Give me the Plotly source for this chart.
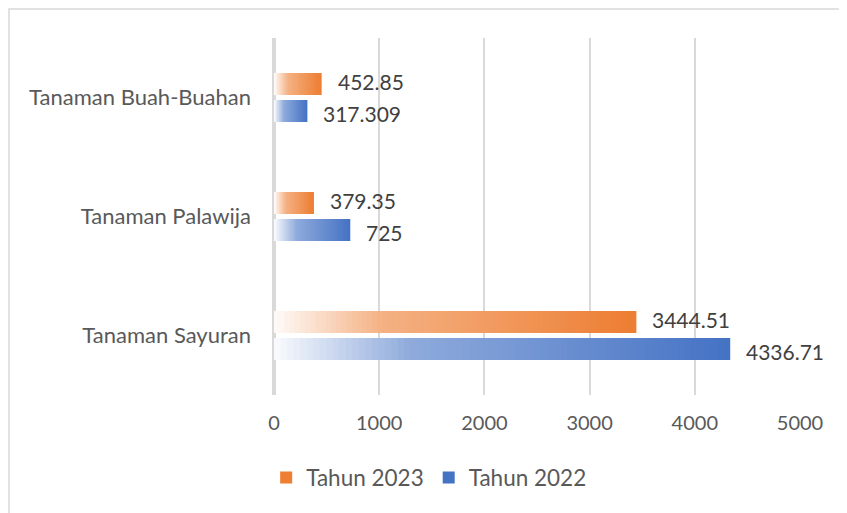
import plotly.graph_objects as go

categories = ["Tanaman Sayuran", "Tanaman Palawija", "Tanaman Buah-Buahan"]
tahun_2022 = [4336.71, 725, 317.309]
tahun_2023 = [3444.51, 379.35, 452.85]
x_ticks = [0, 1000, 2000, 3000, 4000, 5000]

FONT = "Lato"
K = 70  # gradient segments


def alpha(t):
    if t < 0.3:
        return 0.03 + (0.6 - 0.03) * t / 0.3
    return 0.6 + 0.4 * (t - 0.3) / 0.7


def blend(rgb, a):
    return "rgb(%d,%d,%d)" % tuple(round(255 * (1 - a) + c * a) for c in rgb)


series = [
    ("Tahun 2022", tahun_2022, (68, 114, 196), 2, -16),
    ("Tahun 2023", tahun_2023, (237, 125, 49), 1, 16),
]

fig = go.Figure()
for name, vals, rgb, rank, yshift in series:
    for k in range(K - 1, -1, -1):
        t = (k + 0.5) / K
        fig.add_trace(go.Bar(
            y=categories,
            x=[v * (k + 1) / K for v in vals],
            orientation="h",
            name=name,
            offsetgroup=name,
            marker=dict(color=blend(rgb, alpha(t)), line=dict(width=0)),
            showlegend=(k == K - 1),
            legendrank=rank,
            hoverinfo="skip",
        ))
    for cat, v in zip(categories, vals):
        fig.add_annotation(
            x=v, y=cat, text=f"{v:g}", showarrow=False,
            xanchor="left", yanchor="middle", xshift=14, yshift=yshift,
            font=dict(family=FONT, size=21, color="#404040"),
        )

# outer chart border
fig.add_shape(type="rect", xref="paper", yref="paper",
              x0=-0.5038, x1=1.3, y0=-0.45, y1=1.0812,
              line=dict(color="#d9d9d9", width=1.5), layer="below")

fig.update_layout(
    width=839, height=505,
    margin=dict(l=266, r=47, t=30, b=118),
    paper_bgcolor="white", plot_bgcolor="white",
    barmode="group", bargap=0.546, bargroupgap=0.185,
    font=dict(family=FONT, size=20, color="#595959"),
    legend=dict(orientation="h", x=0.295, xanchor="center", y=-0.232, yanchor="middle",
                font=dict(family=FONT, size=22.5, color="#595959"),
                traceorder="normal", itemwidth=30),
    xaxis=dict(range=[0, 5000], tickvals=x_ticks, showgrid=True, gridcolor="#d9d9d9",
               gridwidth=2, zeroline=True, zerolinecolor="#d9d9d9", zerolinewidth=4,
               showline=False, ticks="", ticklabelstandoff=14,
               tickfont=dict(family=FONT, size=20, color="#595959")),
    yaxis=dict(categoryorder="array", categoryarray=categories, showgrid=False,
               zeroline=False, showline=False, ticks="", ticklabelstandoff=22,
               tickfont=dict(family=FONT, size=22, color="#595959")),
)

fig.write_html("out.html")
